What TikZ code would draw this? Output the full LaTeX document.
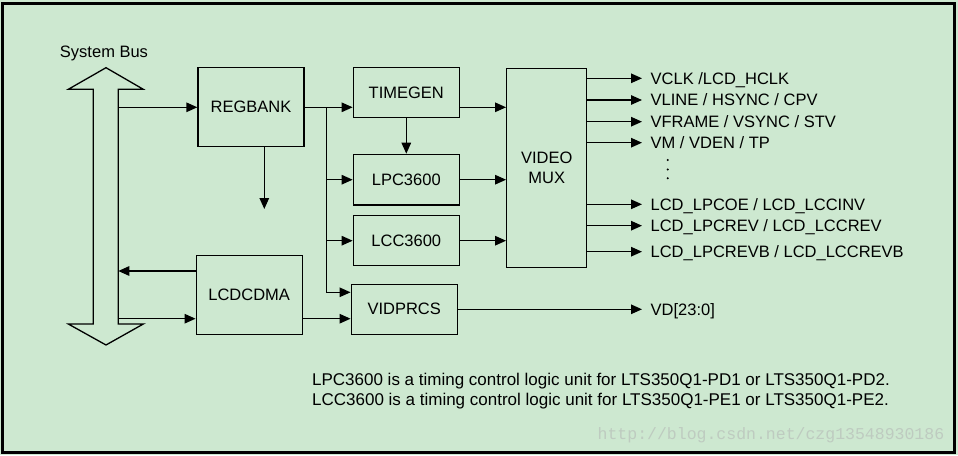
\documentclass[tikz,border=0pt]{standalone}
\usepackage{fontspec}
\setmainfont{Liberation Sans}
\setmonofont{Liberation Mono}
\usetikzlibrary{arrows.meta}
\definecolor{panelgreen}{RGB}{205,232,208}
\definecolor{wmarkgray}{RGB}{190,203,192}

\begin{document}
\begin{tikzpicture}[x=1pt, y=-1pt, line width=1.3pt, >={Triangle[length=11pt,width=9.5pt]}]
        \tikzstyle{block}=[draw, minimum width=106pt, inner sep=0pt, font=\fontsize{16.5}{19.5}\selectfont]
        \tikzstyle{signal}=[anchor=west, inner xsep=8pt, inner ysep=0pt, text height=11.8pt, text depth=0pt, font=\fontsize{16.5}{19.5}\selectfont]
        \tikzstyle{note}=[anchor=base west, inner sep=0pt, font=\fontsize{17}{20}\selectfont]

        \fill[panelgreen] (0,0) rectangle (958,455);
        \draw[line width=3pt] (2.5,3) rectangle (954,452.7);
        \useasboundingbox (0,0) rectangle (958,455);

        \draw[fill=panelgreen] (106,67.7) -- (143.3,89.3) -- (118.3,89.3) -- (118.3,324) -- (143.3,324) -- (106,345)
            -- (68.3,324) -- (93.3,324) -- (93.3,89.3) -- (68.3,89.3) -- cycle;
        \node[anchor=base, inner sep=0pt, font=\fontsize{16.5}{19.5}\selectfont] (sysbus) at (104,57.3) {System Bus};

        \node[block, minimum height=79pt] (regbank) at (251,107.2) {REGBANK};
        \node[block, minimum height=78.6pt] (lcdcdma) at (249.2,295) {LCDCDMA};
        \node[block, minimum height=49.6pt] (timegen) at (406.3,92.5) {TIMEGEN};
        \node[block, minimum height=50.7pt] (lpc) at (406.3,179.7) {LPC3600};
        \node[block, minimum height=50pt] (lcc) at (406.3,240.7) {LCC3600};
        \node[block, minimum height=50pt] (vidprcs) at (404.2,309.3) {VIDPRCS};
        \node[block, minimum width=80pt, minimum height=199pt, align=center] (mux) at (546.7,167.8) {VIDEO\\MUX};

        \coordinate (busa) at (118.3,107.3);
        \coordinate (busb) at (118.3,271);
        \coordinate (busc) at (118.3,318.7);
        \coordinate (regdrop) at (264.3,209);
        \coordinate (split) at (326.5,107.3);
        \coordinate (trunkend) at (326.5,292.3);

        \draw[->] (busa) -- (regbank.west |- busa);
        \draw[->] (regbank.south -| regdrop) -- (regdrop);
        \draw[->] (lcdcdma.west |- busb) -- (busb);
        \draw[->] (busc) -- (lcdcdma.west |- busc);
        \draw[->] (lcdcdma.east |- busc) -- (vidprcs.west |- busc);

        \draw[->] (regbank.east |- split) -- (timegen.west |- split);
        \draw[->] (split) -- (trunkend) -- (vidprcs.west |- trunkend);
        \draw[->] (split |- lpc) -- (lpc.west);
        \draw[->] (split |- lcc) -- (lcc.west);
        \draw[->] (timegen.south) -- (lpc.north);

        \draw[->] (timegen.east |- split) -- (mux.west |- split);
        \draw[->] (lpc.east) -- (mux.west |- lpc);
        \draw[->] (lcc.east) -- (mux.west |- lcc);

        \foreach \y/\txt [count=\i] in {78.3/{VCLK /LCD\_HCLK}, 100/{VLINE / HSYNC / CPV},
                121.7/{VFRAME / VSYNC / STV}, 142.7/{VM / VDEN / TP}, 204.3/{LCD\_LPCOE / LCD\_LCCINV},
                225.7/{LCD\_LPCREV / LCD\_LCCREV}, 251.7/{LCD\_LPCREVB / LCD\_LCCREVB}} {
            \node[signal] (out\i) at (642,\y) {\txt};
            \draw[->] (mux.east |- out\i) -- (out\i.west);
        }
        \foreach \y in {160,169.5,178.3}
            \fill (667.7,\y) circle (1.1pt);

        \node[signal] (vd) at (642,309.3) {VD[23:0]};
        \draw[->] (vidprcs.east) -- (vd.west);

        \node[note] (lpcnote) at (311.5,385.7) {LPC3600 is a timing control logic unit for LTS350Q1-PD1 or LTS350Q1-PD2.};
        \node[note] (lccnote) at (311.5,405.7) {LCC3600 is a timing control logic unit for LTS350Q1-PE1 or LTS350Q1-PE2.};

        \node[anchor=base west, inner sep=0pt, text=wmarkgray, font=\ttfamily\fontsize{16.5}{19}\selectfont] (wmark) at (597,439) {http://blog.csdn.net/czg13548930186};
    \end{tikzpicture}
\end{document}
